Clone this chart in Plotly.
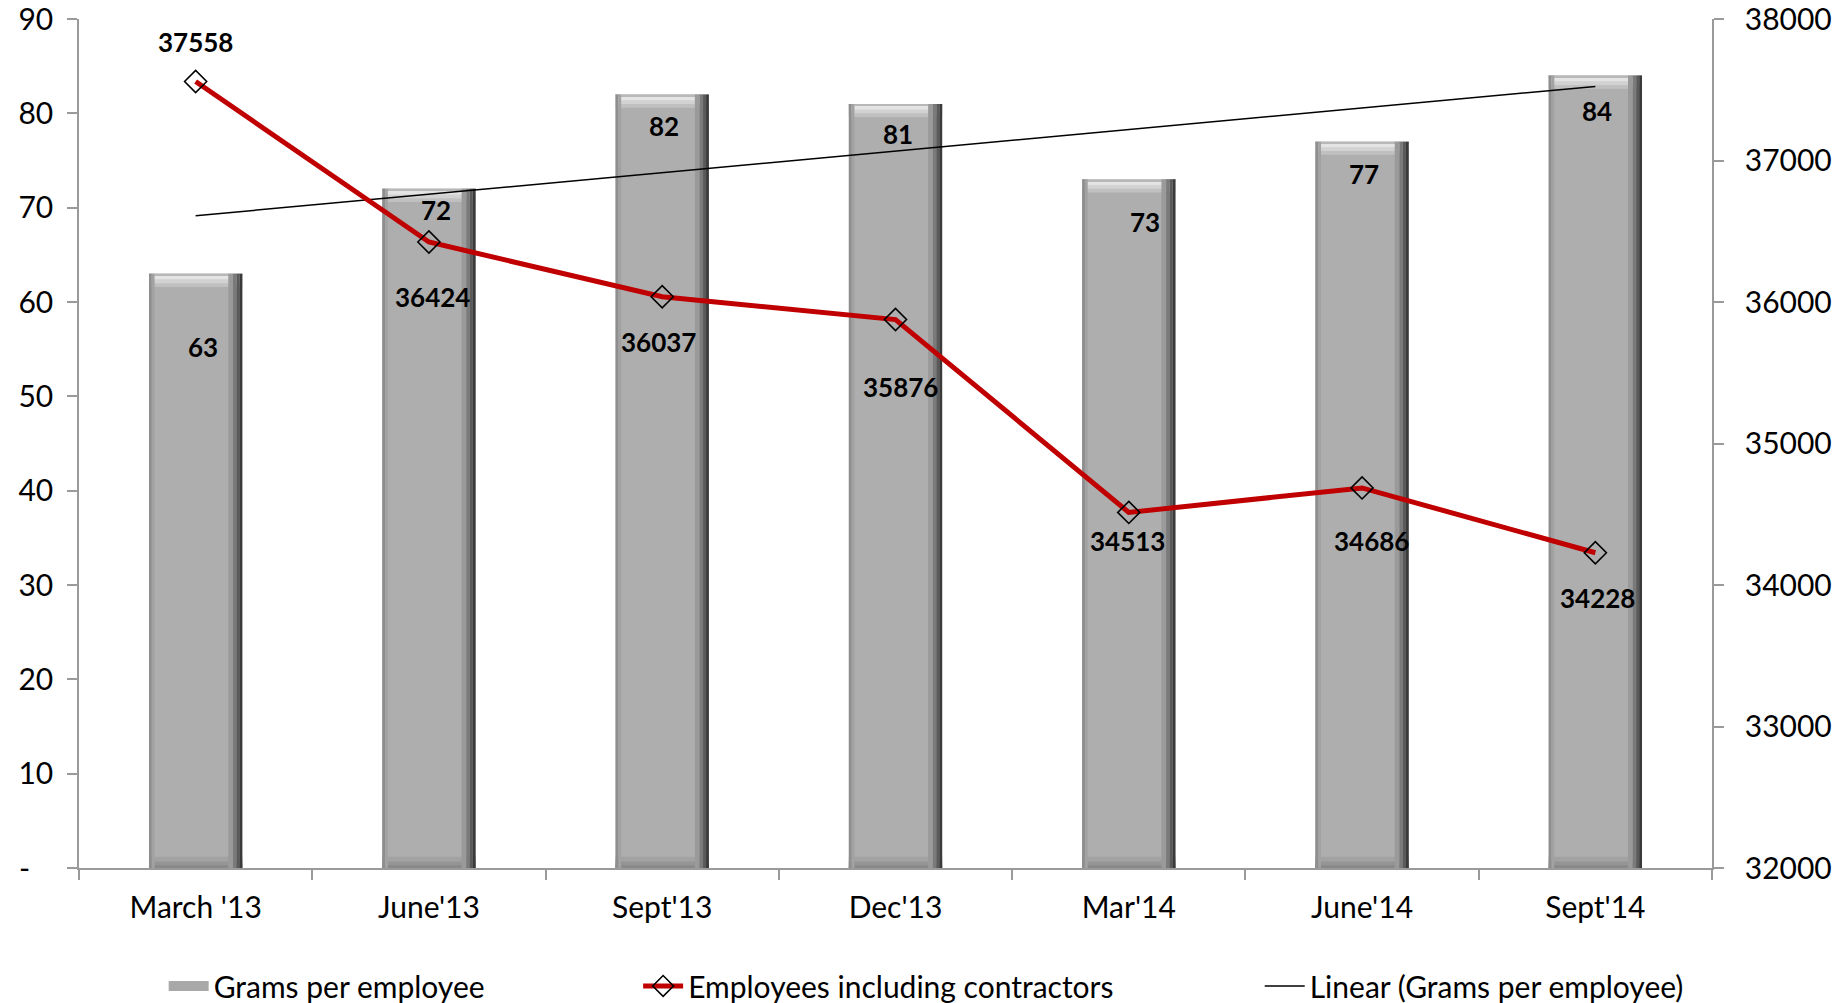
import numpy as np
import plotly.graph_objects as go

# Quarterly data
categories = ["March '13", "June'13", "Sept'13", "Dec'13", "Mar'14", "June'14", "Sept'14"]
grams_per_employee = [63, 72, 82, 81, 73, 77, 84]
employees_incl_contractors = [37558, 36424, 36037, 35876, 34513, 34686, 34228]

left_tick_values = [0, 10, 20, 30, 40, 50, 60, 70, 80, 90]
left_tick_text = ["-\u00a0\u00a0\u00a0", "10", "20", "30", "40", "50", "60", "70", "80", "90"]
right_tick_values = [32000, 33000, 34000, 35000, 36000, 37000, 38000]

# Label nudges in pixels (x, y) relative to each mark
bar_label_shift_x = [7, 7, 2, 2, 16, 2, 2]
bar_label_shift_y = [-73, -21, -32, -30, -43, -32, -35]
line_label_shift_x = [0, 4, -4, 5, -1, 9, 2]
line_label_shift_y = [40, -55, -45, -67, -29, -53, -45]

FONT = "Lato"
AXIS_GREY = "#9A9A9A"
TICK_SIZE = 30

# Linear trend of grams per employee
idx = np.arange(len(grams_per_employee))
slope, intercept = np.polyfit(idx, grams_per_employee, 1)
trend = slope * idx + intercept

fig = go.Figure()

BAR_W = 0.4
HALF = BAR_W / 2

# Main bar body
fig.add_trace(go.Bar(
    x=categories, y=grams_per_employee, width=BAR_W, offset=-HALF,
    marker=dict(color="#AEAEAE", line=dict(width=0)),
    name="Grams per employee", showlegend=False, hoverinfo="skip",
))

# Bevel shading: top highlight, bottom shadow, side edges
vals = np.array(grams_per_employee, dtype=float)
top_layers = [
    (1.4, "#C0C0C0"),
    (1.0, "#D2D2D2"),
    (0.6, "#E4E4E4"),
    (0.2, "#B8B8B8"),
]
for h, col in top_layers:
    fig.add_trace(go.Bar(
        x=categories, y=[h] * len(vals), base=vals - h, width=BAR_W, offset=-HALF,
        marker=dict(color=col, line=dict(width=0)), showlegend=False, hoverinfo="skip",
    ))
bottom_layers = [
    (1.2, "#A2A2A2"),
    (0.7, "#959595"),
    (0.3, "#898989"),
]
for h, col in bottom_layers:
    fig.add_trace(go.Bar(
        x=categories, y=[h] * len(vals), base=[0] * len(vals), width=BAR_W, offset=-HALF,
        marker=dict(color=col, line=dict(width=0)), showlegend=False, hoverinfo="skip",
    ))
side_strips = [
    (-HALF, 0.012, "#8E8E8E"),
    (-HALF + 0.012, 0.012, "#A2A2A2"),
    (HALF - 0.06, 0.02, "#9A9A9A"),
    (HALF - 0.04, 0.015, "#7A7A7A"),
    (HALF - 0.025, 0.013, "#5A5A5A"),
    (HALF - 0.012, 0.012, "#3A3A3A"),
]
for off, w, col in side_strips:
    fig.add_trace(go.Bar(
        x=categories, y=grams_per_employee, width=w, offset=off,
        marker=dict(color=col, line=dict(width=0)), showlegend=False, hoverinfo="skip",
    ))

# Legend key for the bars (wide grey swatch)
fig.add_trace(go.Scatter(
    x=[None], y=[None], mode="lines",
    line=dict(color="#A8A8A8", width=18),
    name="Grams per employee", legend="legend", hoverinfo="skip",
))

# Employees line on the secondary axis
fig.add_trace(go.Scatter(
    x=categories, y=employees_incl_contractors, yaxis="y2", mode="lines+markers",
    line=dict(color="#C00000", width=5),
    marker=dict(symbol="diamond-open", size=17, color="black", line=dict(width=1.6, color="black")),
    name="Employees including contractors", legend="legend2", hoverinfo="skip",
))

# Linear trend line
fig.add_trace(go.Scatter(
    x=categories, y=trend, mode="lines",
    line=dict(color="black", width=1.5),
    name="Linear (Grams per employee)", legend="legend3", hoverinfo="skip",
))

annotations = []
for c, v, dx, dy in zip(categories, grams_per_employee, bar_label_shift_x, bar_label_shift_y):
    annotations.append(dict(
        x=c, y=v, xref="x", yref="y", text=f"<b>{v}</b>", showarrow=False,
        xshift=dx, yshift=dy, yanchor="middle",
        font=dict(family=FONT, size=26, color="black"),
    ))
for c, v, dx, dy in zip(categories, employees_incl_contractors, line_label_shift_x, line_label_shift_y):
    annotations.append(dict(
        x=c, y=v, xref="x", yref="y2", text=f"<b>{v}</b>", showarrow=False,
        xshift=dx, yshift=dy, yanchor="middle",
        font=dict(family=FONT, size=26, color="black"),
    ))

legend_common = dict(
    orientation="h", yanchor="middle", xanchor="left", yref="container", y=0.017,
    xref="container",
    font=dict(family=FONT, size=30, color="black"),
    bgcolor="rgba(0,0,0,0)", itemwidth=40, tracegroupgap=0,
)

fig.update_layout(
    width=1839, height=1003,
    margin=dict(l=79, r=127, t=19, b=135, autoexpand=False),
    paper_bgcolor="white", plot_bgcolor="white",
    barmode="overlay", bargap=0.6,
    font=dict(family=FONT, size=TICK_SIZE, color="black"),
    annotations=annotations,
    legend=dict(x=0.089, **legend_common),
    legend2=dict(x=0.347, **legend_common),
    legend3=dict(x=0.685, **legend_common),
    xaxis=dict(
        type="category", showline=True, linecolor=AXIS_GREY, linewidth=1.5,
        ticks="outside", tickson="boundaries", ticklen=10, tickcolor=AXIS_GREY, tickwidth=1.5,
        ticklabelstandoff=12, showgrid=False, zeroline=False, automargin=False,
        tickfont=dict(family=FONT, size=TICK_SIZE, color="black"),
    ),
    yaxis=dict(
        range=[0, 90], tickvals=left_tick_values, ticktext=left_tick_text,
        showline=True, linecolor=AXIS_GREY, linewidth=1.5,
        ticks="outside", ticklen=10, tickcolor=AXIS_GREY, tickwidth=1.5,
        ticklabelstandoff=8, showgrid=False, zeroline=False, automargin=False,
        ticklabeloverflow="allow",
        tickfont=dict(family=FONT, size=TICK_SIZE, color="black"),
    ),
    yaxis2=dict(
        range=[32000, 38000], tickvals=right_tick_values, tickformat="d",
        overlaying="y", side="right",
        showline=True, linecolor=AXIS_GREY, linewidth=1.5,
        ticks="outside", ticklen=10, tickcolor=AXIS_GREY, tickwidth=1.5,
        ticklabelstandoff=15, showgrid=False, zeroline=False, automargin=False,
        ticklabeloverflow="allow",
        tickfont=dict(family=FONT, size=TICK_SIZE, color="black"),
    ),
)

fig.write_html("out.html")
